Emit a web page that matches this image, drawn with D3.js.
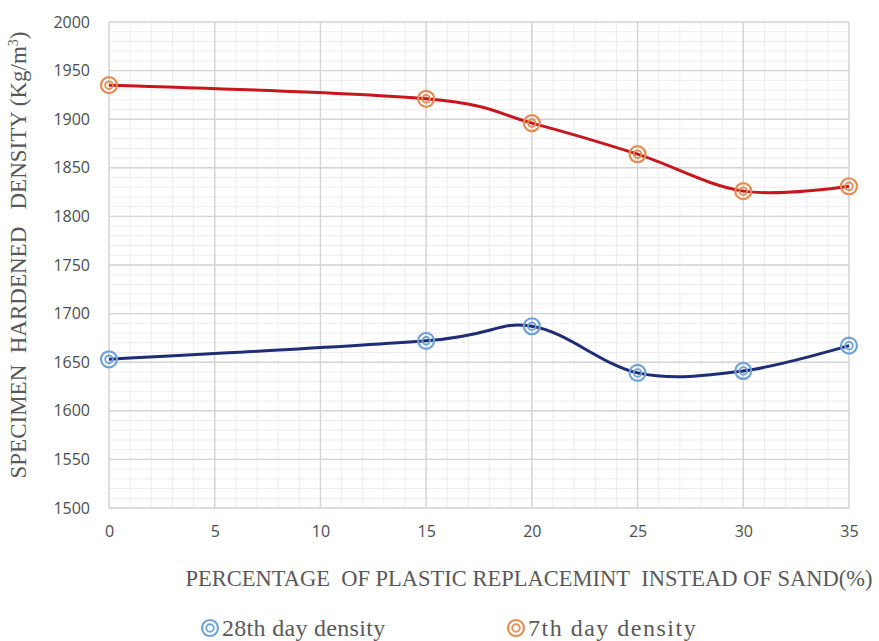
<!DOCTYPE html>
<html>
<head>
<meta charset="utf-8">
<script src="https://cdn.jsdelivr.net/npm/d3@7"></script>
<style>
  html, body { margin: 0; padding: 0; background: #fff; }
  svg { display: block; }
</style>
</head>
<body>
<svg id="chart" width="879" height="641"></svg>
<script>
// Replacement percentages (x) and hardened density readings (kg/m³)
const replacement = [0, 15, 20, 25, 30, 35];
const density28 = [1653, 1672, 1687, 1639, 1641, 1667];
const density7 = [1935, 1921, 1896, 1864, 1826, 1831];
const xTicks = [0, 5, 10, 15, 20, 25, 30, 35];
const yTicks = [1500, 1550, 1600, 1650, 1700, 1750, 1800, 1850, 1900, 1950, 2000];
const seriesNames = ["28th day density", "7th day density"];

const svg = d3.select("#chart");
const plot = { left: 109, right: 849, top: 22, bottom: 508 };

const x = d3.scaleLinear().domain([0, 35]).range([plot.left, plot.right]);
const y = d3.scaleLinear().domain([1500, 2000]).range([plot.bottom, plot.top]);

const grid = svg.append("g");
// minor grid: every 1 % horizontally, every 10 kg/m³ vertically
grid.selectAll("line.minor-x").data(d3.range(0, 36, 1)).join("line")
  .attr("x1", d => x(d)).attr("x2", d => x(d))
  .attr("y1", plot.top).attr("y2", plot.bottom)
  .attr("stroke", "#ededed").attr("stroke-width", 1);
grid.selectAll("line.minor-y").data(d3.range(1500, 2001, 10)).join("line")
  .attr("x1", plot.left).attr("x2", plot.right)
  .attr("y1", d => y(d)).attr("y2", d => y(d))
  .attr("stroke", "#ededed").attr("stroke-width", 1);
// major grid
grid.selectAll("line.major-x").data(xTicks).join("line")
  .attr("x1", d => x(d)).attr("x2", d => x(d))
  .attr("y1", plot.top).attr("y2", plot.bottom)
  .attr("stroke", "#d4d4d4").attr("stroke-width", 1.4);
grid.selectAll("line.major-y").data(yTicks).join("line")
  .attr("x1", plot.left).attr("x2", plot.right)
  .attr("y1", d => y(d)).attr("y2", d => y(d))
  .attr("stroke", "#d4d4d4").attr("stroke-width", 1.4);

// axes (labels only)
const xAxis = svg.append("g")
  .attr("transform", `translate(0,${plot.bottom + 12})`)
  .call(d3.axisBottom(x).tickValues(xTicks).tickSize(0).tickPadding(6));
const yAxis = svg.append("g")
  .attr("transform", `translate(${plot.left - 13},0)`)
  .call(d3.axisLeft(y).tickValues(yTicks).tickSize(0).tickPadding(6).tickFormat(d3.format("d")));
[xAxis, yAxis].forEach(a => {
  a.select(".domain").remove();
  a.selectAll("text")
    .attr("fill", "#4d4d4d")
    .style("font-family", "'Open Sans', 'Liberation Sans', sans-serif")
    .style("font-size", "16px");
});

const curve = d3.curveCardinal.tension(0);
const line = d3.line().x(d => x(d[0])).y(d => y(d[1])).curve(curve);

const series = [
  { name: seriesNames[0], values: density28, line: "#1f2c77", marker: "#6fa3d8" },
  { name: seriesNames[1], values: density7, line: "#c8161d", marker: "#e58c55" }
];

function marker(g, cx, cy, color) {
  g.append("circle").attr("cx", cx).attr("cy", cy).attr("r", 8)
    .attr("fill", "none").attr("stroke", color).attr("stroke-width", 2.2);
  g.append("circle").attr("cx", cx).attr("cy", cy).attr("r", 3.8)
    .attr("fill", "none").attr("stroke", color).attr("stroke-width", 1.9);
}

series.forEach(s => {
  const pts = replacement.map((r, i) => [r, s.values[i]]);
  svg.append("path").datum(pts)
    .attr("d", line)
    .attr("fill", "none")
    .attr("stroke", s.line)
    .attr("stroke-width", 3);
  const mg = svg.append("g");
  pts.forEach(p => marker(mg, x(p[0]), y(p[1]), s.marker));
});

// axis titles
svg.append("text")
  .attr("transform", `translate(26,255) rotate(-90)`)
  .attr("text-anchor", "middle")
  .attr("fill", "#595959")
  .style("font-family", "'Liberation Serif', 'Times New Roman', serif")
  .style("font-size", "23px")
  .html("SPECIMEN&#160; HARDENED&#160;&#160; DENSITY (Kg/m<tspan dy='-8' font-size='14'>3</tspan><tspan dy='8'>)</tspan>");

svg.append("text")
  .attr("x", 529).attr("y", 586)
  .attr("text-anchor", "middle")
  .attr("fill", "#595959")
  .style("font-family", "'Liberation Serif', 'Times New Roman', serif")
  .style("font-size", "22.5px")
  .text("PERCENTAGE\u00a0 OF PLASTIC REPLACEMINT\u00a0 INSTEAD OF SAND(%)");

// legend
const legendX = [210, 516];
series.forEach((s, i) => {
  const g = svg.append("g");
  marker(g, legendX[i], 628, s.marker);
  g.append("text")
    .attr("x", legendX[i] + 12).attr("y", 636)
    .attr("fill", "#595959")
    .style("font-family", "'Liberation Serif', 'Times New Roman', serif")
    .style("font-size", "24px")
    .style("letter-spacing", i === 1 ? "1.5px" : "0.3px")
    .text(s.name);
});
</script>
</body>
</html>
